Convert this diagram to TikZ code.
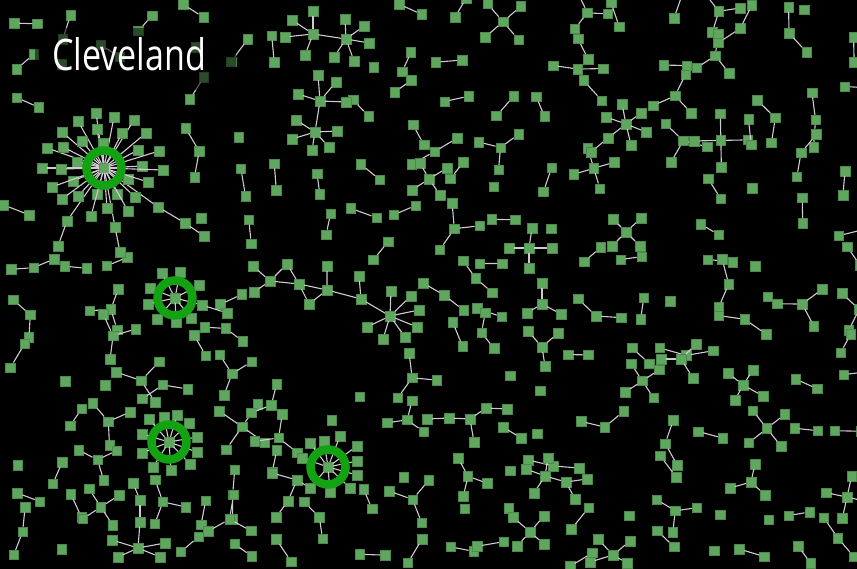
\documentclass[tikz,border=0pt]{standalone}
\usepackage{graphicx}
\usepackage{fontspec}
\newfontfamily\labfont{Open Sans}
\definecolor{sq}{HTML}{5FA65F}
\definecolor{sqd}{HTML}{4C8A4C}
\definecolor{ln}{HTML}{D2CAD2}
\definecolor{ring}{HTML}{12A212}
\tikzset{
  sqr/.style={rectangle, fill=sq, draw=sqd, line width=0.4pt, minimum size=9.5pt, inner sep=0pt},
  edge/.style={draw=ln, line width=1.1pt},
  ringc/.style={draw=ring, line width=8.5pt}
}
\newcommand\mystar[4]{%
  \node[sqr] (#1) at (#2,#3) {};
  \foreach \px/\py [count=\k] in {#4}{
    \node[sqr] (#1-\k) at (\px,\py) {};
    \draw[edge] (#1) -- (#1-\k);
  }%
}
\newcommand\ext[3]{% new node name, x/y, parent
  \node[sqr] (#1) at (#2) {};
  \draw[edge] (#3) -- (#1);
}
\begin{document}
\begin{tikzpicture}[x=1pt,y=-1pt]
\fill[black] (0,0) rectangle (857,569);
\useasboundingbox (0,0) rectangle (857,569);
\clip (0,0) rectangle (857,569);

% ---------- random background components ----------
\pgfmathsetseed{4242}
\foreach \i in {0,...,19}{
 \foreach \j in {0,...,13}{
  \pgfmathsetmacro{\cx}{22+43.5*\i+12*rand}
  \pgfmathsetmacro{\cy}{16+41*\j+12*rand}
  \pgfmathsetmacro{\t}{rnd}
  \pgfmathsetmacro{\a}{360*rnd}
  \pgfmathsetmacro{\l}{20+8*rnd}
  \pgfmathsetmacro{\b}{\a+120+25*rand}
  \pgfmathsetmacro{\c}{\a+240+25*rand}
  \pgfmathsetmacro{\d}{\a+60*rand}
  \pgfmathsetmacro{\ok}{(veclen(\cx-104,\cy-168)>88)&&(veclen(\cx-175,\cy-298)>48)&&(veclen(\cx-169,\cy-442)>45)&&(veclen(\cx-328,\cy-467)>44)&&(veclen(\cx-290,\cy-487)>26)&&(veclen(\cx-138,\cy-535)>38)&&((\cx<245)||(\cx>428)||(\cy<252)||(\cy>348))&&(veclen(\cx-330,\cy-37)>42)&&(veclen(\cx-318,\cy-118)>42)&&(veclen(\cx-620,\cy-128)>36)&&(veclen(\cx-429,\cy-179)>26)&&(veclen(\cx-626,\cy-232)>25)&&(veclen(\cx-681,\cy-359)>25)&&(veclen(\cx-745,\cy-385)>26)&&(veclen(\cx-751,\cy-482)>22)&&(veclen(\cx-550,\cy-478)>30)&&(veclen(\cx-530,\cy-532)>22)&&(veclen(\cx-613,\cy-552)>22)&&(veclen(\cx-465,\cy-420)>30)&&(veclen(\cx-542,\cy-304)>22)&&(veclen(\cx-529,\cy-248)>25)&&(veclen(\cx-542,\cy-345)>22)}
  \ifdim\ok pt>0.5pt
   \ifdim\t pt<0.14pt
   \else\ifdim\t pt<0.26pt
     \node[sqr] (r\i-\j-a) at (\cx,\cy) {};
   \else\ifdim\t pt<0.72pt
     \path (\cx,\cy) ++(\a:\l/2) node[sqr] (r\i-\j-a) {};
     \path (\cx,\cy) ++(\a+180:\l/2) node[sqr] (r\i-\j-b) {};
     \draw[edge] (r\i-\j-a) -- (r\i-\j-b);
   \else\ifdim\t pt<0.87pt
     \path (\cx,\cy) node[sqr] (r\i-\j-a) {} ++(\a:\l) node[sqr] (r\i-\j-b) {} ++(\d:\l) node[sqr] (r\i-\j-c) {};
     \draw[edge] (r\i-\j-a) -- (r\i-\j-b) -- (r\i-\j-c);
   \else\ifdim\t pt<0.96pt
     \node[sqr] (r\i-\j-a) at (\cx,\cy) {};
     \path (\cx,\cy) ++(\a:\l) node[sqr] (r\i-\j-b) {};
     \path (\cx,\cy) ++(\b:\l) node[sqr] (r\i-\j-c) {};
     \path (\cx,\cy) ++(\c:\l) node[sqr] (r\i-\j-d) {};
     \draw[edge] (r\i-\j-a) -- (r\i-\j-b) (r\i-\j-a) -- (r\i-\j-c) (r\i-\j-a) -- (r\i-\j-d);
   \else
     \node[sqr] (r\i-\j-a) at (\cx,\cy) {};
     \path (\cx,\cy) ++(\a:\l) node[sqr] (r\i-\j-b) {};
     \path (\cx,\cy) ++(\a+90:\l) node[sqr] (r\i-\j-c) {};
     \path (\cx,\cy) ++(\a+180:\l) node[sqr] (r\i-\j-d) {};
     \path (\cx,\cy) ++(\a+270:\l) node[sqr] (r\i-\j-e) {};
     \draw[edge] (r\i-\j-a) -- (r\i-\j-b) (r\i-\j-a) -- (r\i-\j-c) (r\i-\j-a) -- (r\i-\j-d) (r\i-\j-a) -- (r\i-\j-e);
   \fi\fi\fi\fi\fi
  \fi
 }
}

% ---------- hub 1 ----------
\mystar{h1}{104}{168}{158/207, 67/221, 115/227, 96/113, 114/117, 134/120, 78/121, 97/129, 62/132, 122/133, 146/133, 82/141, 47/148, 63/147, 103/143, 138/150, 159/151, 77/162, 42/168, 61/169, 142/166, 163/170, 73/181, 128/179, 148/182, 52/187, 78/196, 97/194, 117/194, 135/197, 62/199, 107/208, 128/211, 91/216}
\ext{h1x1}{185,223}{h1-1}
\ext{h1x2}{204,236}{h1x1}
\ext{h1x3}{58,246}{h1-2}
\ext{h1x4}{120,252}{h1-3}
% ---------- hub 2 ----------
\mystar{h2}{175}{298}{202/305, 162/273, 180/272, 199/285, 150/288, 148/304, 157/319, 176/322, 191/318}
\ext{h2x1}{227,313}{h2-1}
% ---------- hub 3 ----------
\mystar{h3}{169}{442}{149/419, 164/417, 177/415, 189/423, 142/434, 197/437, 142/453, 197/452, 153/467, 171/470, 190/464}
% ---------- hub 4 ----------
\mystar{h4}{328}{467}{310/488, 310/443, 324/441, 340/436, 357/446, 302/458, 357/461, 357/475, 350/488, 330/492}
\ext{h4x1}{297,480}{h4-1}
\ext{h4x2}{272,473}{h4x1}
\ext{h4x3}{288,501}{h4x1}
\ext{h4x4}{276,517}{h4x3}
% ---------- bottom-left star ----------
\mystar{bl}{138}{548}{140/522, 112/540, 118/557, 160/557, 165/543}
\ext{blx1}{140,500}{bl-1}
\ext{blx2}{133,483}{blx1}
% ---------- chain + star ----------
\node[sqr] (c1) at (253,266) {};
\node[sqr] (c2) at (254,292) {};
\node[sqr] (c3) at (270,281) {};
\node[sqr] (c4) at (287,264) {};
\node[sqr] (c5) at (299,284) {};
\node[sqr] (c6) at (309,304) {};
\node[sqr] (c7) at (327,290) {};
\node[sqr] (c8) at (327,266) {};
\node[sqr] (c9) at (361,299) {};
\node[sqr] (c10) at (359,276) {};
\draw[edge] (c1)--(c3) (c2)--(c3) (c3)--(c4) (c3)--(c5) (c4)--(c5) (c5)--(c6) (c6)--(c7) (c5)--(c7) (c7)--(c8) (c7)--(c9) (c9)--(c10);
\mystar{s1}{390}{316}{391/291, 411/296, 419/310, 417/327, 405/337, 383/339, 367/327}
\draw[edge] (c9) -- (s1);
% ---------- other stars ----------
\mystar{sa}{313}{34}{292/20, 313/11, 285/37, 305/55}
\mystar{sb}{346}{39}{345/19, 364/26, 369/43, 354/61, 334/57}
\draw[edge] (sa) -- (sb);
\mystar{sc}{320}{101}{318/75, 336/82, 298/94, 346/102}
\mystar{sd}{315}{132}{296/120, 337/131, 292/139, 329/147, 312/150}
\draw[edge] (sc) -- (sd);
\mystar{se}{626}{124}{608/138, 622/104, 641/113, 646/132, 631/145, 606/117}
\ext{sex}{591,152}{se-1}
\mystar{sf}{429}{179}{420/163, 447/168, 412/190, 440/195}
\mystar{sg}{626}{232}{613/219, 641/218, 612/246, 640/246}
\mystar{sh}{681}{359}{661/359, 696/344, 693/378}
\mystar{si}{743}{385}{728/373, 753/370, 763/396, 735/400}
\mystar{sj}{751}{482}{755/464, 730/488, 765/495}
\mystar{sk}{545}{476}{566/482, 548/458, 526/469, 534/493}
\ext{skx1}{587,479}{sk-1}
\ext{skx2}{575,499}{sk-1}
\mystar{sl}{530}{532}{513/517, 544/516, 517/546, 544/544}
\mystar{sm}{613}{555}{598/539, 630/541, 590/562, 627/563}
\mystar{sn}{470}{419}{449/418, 486/408, 474/442}
\ext{snx1}{427,419}{sn-1}
\ext{snx2}{507,409}{sn-2}
\mystar{so}{542}{304}{542/283, 527/313, 561/314}
\mystar{sp}{529}{248}{532/228, 509/248, 552/248, 529/268}
\mystar{sq}{542}{347}{528/331, 558/333, 545/366}

% ---------- rings ----------
\foreach \h in {h1,h2,h3,h4}{
  \draw[ringc] (\h.center) circle[radius=17.5pt];
}

% ---------- title ----------
\fill[black, opacity=0.55, rounded corners=10pt] (35,28) rectangle (236,90);
\node[anchor=base west, inner sep=0pt, text=white] (title) at (52,71) {\resizebox{154pt}{33pt}{\labfont Cleveland}};
\end{tikzpicture}
\end{document}
